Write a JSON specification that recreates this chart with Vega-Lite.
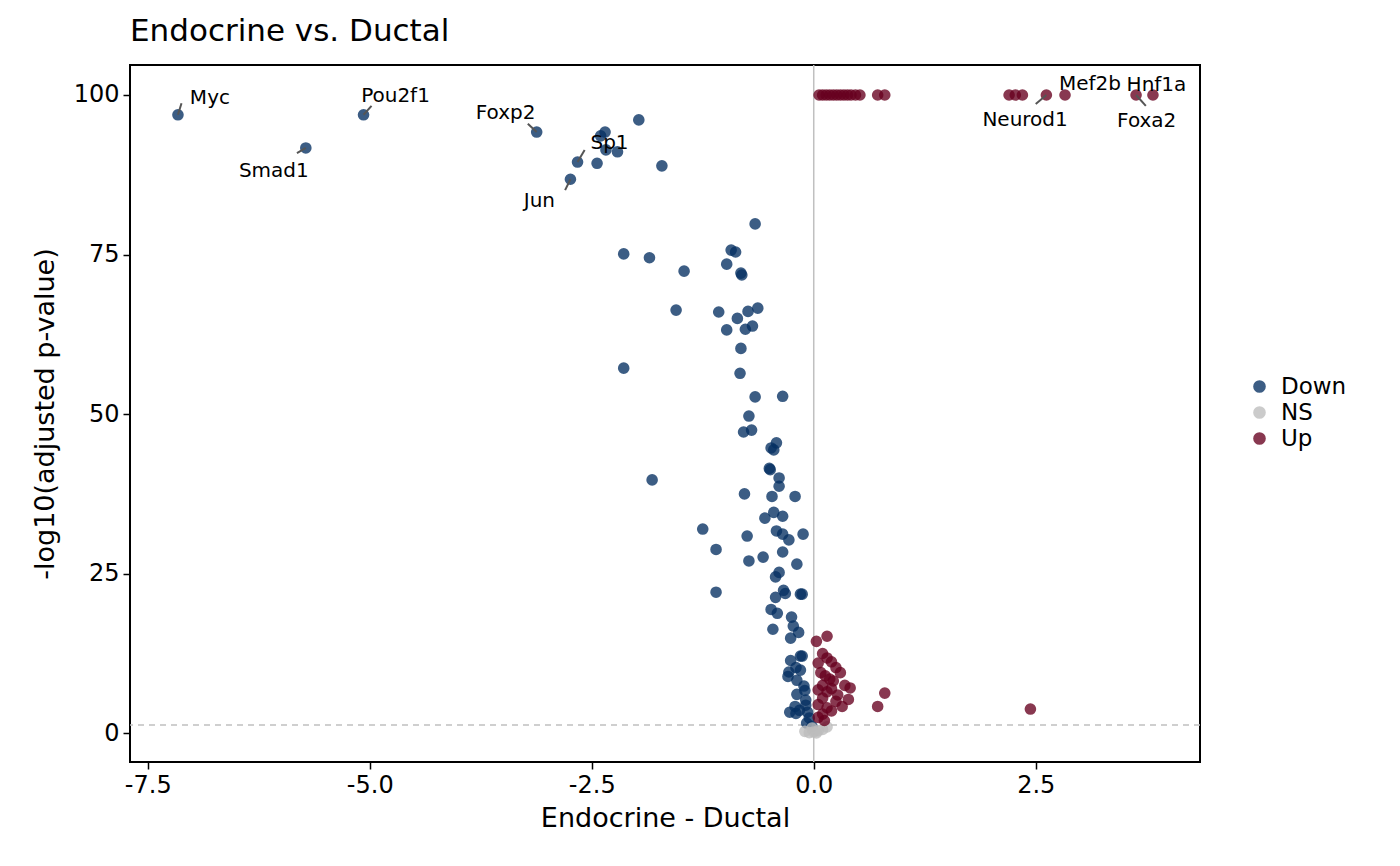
{
  "$schema": "https://vega.github.io/schema/vega-lite/v6.json",
  "width": 1070,
  "height": 697,
  "autosize": {"type": "none"},
  "padding": {"left": 130, "top": 65, "right": 200, "bottom": 104},
  "background": "white",
  "title": {"text": "Endocrine vs. Ductal", "anchor": "start", "frame": "group", "fontSize": 31, "fontWeight": "normal", "font": "DejaVu Sans", "color": "black", "offset": 16},
  "datasets": {
    "genes": [
      {"lfc": -7.16, "p": 96.9, "status": "Down"},
      {"lfc": -5.72, "p": 91.7, "status": "Down"},
      {"lfc": -5.07, "p": 96.9, "status": "Down"},
      {"lfc": -3.12, "p": 94.2, "status": "Down"},
      {"lfc": -1.97, "p": 96.1, "status": "Down"},
      {"lfc": -2.35, "p": 94.2, "status": "Down"},
      {"lfc": -2.4, "p": 93.6, "status": "Down"},
      {"lfc": -2.34, "p": 91.4, "status": "Down"},
      {"lfc": -2.21, "p": 91.1, "status": "Down"},
      {"lfc": -2.66, "p": 89.5, "status": "Down"},
      {"lfc": -2.44, "p": 89.3, "status": "Down"},
      {"lfc": -1.71, "p": 88.9, "status": "Down"},
      {"lfc": -2.74, "p": 86.8, "status": "Down"},
      {"lfc": -0.66, "p": 79.8, "status": "Down"},
      {"lfc": -0.93, "p": 75.7, "status": "Down"},
      {"lfc": -0.88, "p": 75.4, "status": "Down"},
      {"lfc": -2.14, "p": 75.1, "status": "Down"},
      {"lfc": -1.85, "p": 74.5, "status": "Down"},
      {"lfc": -0.98, "p": 73.5, "status": "Down"},
      {"lfc": -1.46, "p": 72.4, "status": "Down"},
      {"lfc": -0.82, "p": 72.1, "status": "Down"},
      {"lfc": -0.81, "p": 71.8, "status": "Down"},
      {"lfc": -1.55, "p": 66.3, "status": "Down"},
      {"lfc": -1.07, "p": 66.0, "status": "Down"},
      {"lfc": -0.74, "p": 66.1, "status": "Down"},
      {"lfc": -0.63, "p": 66.6, "status": "Down"},
      {"lfc": -0.86, "p": 65.0, "status": "Down"},
      {"lfc": -0.69, "p": 63.8, "status": "Down"},
      {"lfc": -0.98, "p": 63.2, "status": "Down"},
      {"lfc": -0.77, "p": 63.3, "status": "Down"},
      {"lfc": -0.82, "p": 60.3, "status": "Down"},
      {"lfc": -2.14, "p": 57.2, "status": "Down"},
      {"lfc": -0.83, "p": 56.4, "status": "Down"},
      {"lfc": -0.35, "p": 52.8, "status": "Down"},
      {"lfc": -0.66, "p": 52.7, "status": "Down"},
      {"lfc": -0.73, "p": 49.7, "status": "Down"},
      {"lfc": -0.7, "p": 47.5, "status": "Down"},
      {"lfc": -0.79, "p": 47.2, "status": "Down"},
      {"lfc": -0.42, "p": 45.5, "status": "Down"},
      {"lfc": -0.48, "p": 44.7, "status": "Down"},
      {"lfc": -0.45, "p": 44.4, "status": "Down"},
      {"lfc": -1.82, "p": 39.7, "status": "Down"},
      {"lfc": -0.5, "p": 41.5, "status": "Down"},
      {"lfc": -0.49, "p": 41.3, "status": "Down"},
      {"lfc": -0.39, "p": 40.0, "status": "Down"},
      {"lfc": -0.39, "p": 38.7, "status": "Down"},
      {"lfc": -0.21, "p": 37.1, "status": "Down"},
      {"lfc": -0.78, "p": 37.5, "status": "Down"},
      {"lfc": -0.47, "p": 37.1, "status": "Down"},
      {"lfc": -0.45, "p": 34.6, "status": "Down"},
      {"lfc": -0.35, "p": 34.0, "status": "Down"},
      {"lfc": -0.55, "p": 33.7, "status": "Down"},
      {"lfc": -1.25, "p": 32.0, "status": "Down"},
      {"lfc": -0.12, "p": 31.2, "status": "Down"},
      {"lfc": -0.75, "p": 30.9, "status": "Down"},
      {"lfc": -0.42, "p": 31.7, "status": "Down"},
      {"lfc": -0.35, "p": 31.2, "status": "Down"},
      {"lfc": -0.28, "p": 30.3, "status": "Down"},
      {"lfc": -0.35, "p": 28.4, "status": "Down"},
      {"lfc": -1.1, "p": 28.8, "status": "Down"},
      {"lfc": -0.57, "p": 27.6, "status": "Down"},
      {"lfc": -0.73, "p": 27.0, "status": "Down"},
      {"lfc": -0.19, "p": 26.5, "status": "Down"},
      {"lfc": -0.39, "p": 25.2, "status": "Down"},
      {"lfc": -0.43, "p": 24.5, "status": "Down"},
      {"lfc": -1.1, "p": 22.1, "status": "Down"},
      {"lfc": -0.34, "p": 22.4, "status": "Down"},
      {"lfc": -0.32, "p": 21.9, "status": "Down"},
      {"lfc": -0.15, "p": 21.8, "status": "Down"},
      {"lfc": -0.13, "p": 21.8, "status": "Down"},
      {"lfc": -0.43, "p": 21.3, "status": "Down"},
      {"lfc": -0.48, "p": 19.4, "status": "Down"},
      {"lfc": -0.41, "p": 18.8, "status": "Down"},
      {"lfc": -0.25, "p": 18.2, "status": "Down"},
      {"lfc": -0.23, "p": 16.8, "status": "Down"},
      {"lfc": -0.46, "p": 16.3, "status": "Down"},
      {"lfc": -0.17, "p": 15.8, "status": "Down"},
      {"lfc": -0.26, "p": 14.9, "status": "Down"},
      {"lfc": -0.15, "p": 12.1, "status": "Down"},
      {"lfc": -0.13, "p": 12.1, "status": "Down"},
      {"lfc": -0.26, "p": 11.4, "status": "Down"},
      {"lfc": -0.28, "p": 9.6, "status": "Down"},
      {"lfc": -0.29, "p": 8.9, "status": "Down"},
      {"lfc": -0.2, "p": 10.3, "status": "Down"},
      {"lfc": -0.15, "p": 9.9, "status": "Down"},
      {"lfc": -0.19, "p": 8.3, "status": "Down"},
      {"lfc": -0.11, "p": 7.4, "status": "Down"},
      {"lfc": -0.1, "p": 6.7, "status": "Down"},
      {"lfc": -0.19, "p": 6.1, "status": "Down"},
      {"lfc": -0.21, "p": 4.2, "status": "Down"},
      {"lfc": -0.16, "p": 3.6, "status": "Down"},
      {"lfc": -0.09, "p": 5.2, "status": "Down"},
      {"lfc": -0.09, "p": 4.4, "status": "Down"},
      {"lfc": -0.07, "p": 3.3, "status": "Down"},
      {"lfc": -0.05, "p": 2.4, "status": "Down"},
      {"lfc": -0.08, "p": 1.6, "status": "Down"},
      {"lfc": -0.02, "p": 1.1, "status": "Down"},
      {"lfc": -0.2, "p": 3.1, "status": "Down"},
      {"lfc": -0.27, "p": 3.3, "status": "Down"},
      {"lfc": -0.1, "p": 0.3, "status": "NS"},
      {"lfc": -0.05, "p": 0.1, "status": "NS"},
      {"lfc": 0.0, "p": 0.2, "status": "NS"},
      {"lfc": 0.05, "p": 0.4, "status": "NS"},
      {"lfc": 0.1, "p": 0.6, "status": "NS"},
      {"lfc": 0.15, "p": 1.0, "status": "NS"},
      {"lfc": -0.02, "p": 0.8, "status": "NS"},
      {"lfc": 0.03, "p": 0.05, "status": "NS"},
      {"lfc": 0.06, "p": 100, "status": "Up"},
      {"lfc": 0.1, "p": 100, "status": "Up"},
      {"lfc": 0.14, "p": 100, "status": "Up"},
      {"lfc": 0.18, "p": 100, "status": "Up"},
      {"lfc": 0.22, "p": 100, "status": "Up"},
      {"lfc": 0.26, "p": 100, "status": "Up"},
      {"lfc": 0.3, "p": 100, "status": "Up"},
      {"lfc": 0.34, "p": 100, "status": "Up"},
      {"lfc": 0.38, "p": 100, "status": "Up"},
      {"lfc": 0.42, "p": 100, "status": "Up"},
      {"lfc": 0.47, "p": 100, "status": "Up"},
      {"lfc": 0.52, "p": 100, "status": "Up"},
      {"lfc": 0.72, "p": 100, "status": "Up"},
      {"lfc": 0.8, "p": 100, "status": "Up"},
      {"lfc": 2.2, "p": 100, "status": "Up"},
      {"lfc": 2.27, "p": 100, "status": "Up"},
      {"lfc": 2.35, "p": 100, "status": "Up"},
      {"lfc": 2.62, "p": 100, "status": "Up"},
      {"lfc": 2.83, "p": 100, "status": "Up"},
      {"lfc": 3.63, "p": 100, "status": "Up"},
      {"lfc": 3.82, "p": 100, "status": "Up"},
      {"lfc": 2.44, "p": 3.8, "status": "Up"},
      {"lfc": 0.8, "p": 6.3, "status": "Up"},
      {"lfc": 0.72, "p": 4.2, "status": "Up"},
      {"lfc": 0.41, "p": 7.1, "status": "Up"},
      {"lfc": 0.39, "p": 5.3, "status": "Up"},
      {"lfc": 0.27, "p": 6.0, "status": "Up"},
      {"lfc": 0.32, "p": 4.2, "status": "Up"},
      {"lfc": 0.15, "p": 15.2, "status": "Up"},
      {"lfc": 0.03, "p": 14.4, "status": "Up"},
      {"lfc": 0.05, "p": 11.0, "status": "Up"},
      {"lfc": 0.1, "p": 12.5, "status": "Up"},
      {"lfc": 0.15, "p": 11.8, "status": "Up"},
      {"lfc": 0.2, "p": 11.2, "status": "Up"},
      {"lfc": 0.25, "p": 10.3, "status": "Up"},
      {"lfc": 0.08, "p": 9.5, "status": "Up"},
      {"lfc": 0.13, "p": 9.0, "status": "Up"},
      {"lfc": 0.18, "p": 8.5, "status": "Up"},
      {"lfc": 0.22, "p": 8.2, "status": "Up"},
      {"lfc": 0.1, "p": 7.5, "status": "Up"},
      {"lfc": 0.05, "p": 6.8, "status": "Up"},
      {"lfc": 0.15, "p": 6.5, "status": "Up"},
      {"lfc": 0.2, "p": 7.0, "status": "Up"},
      {"lfc": 0.1, "p": 5.5, "status": "Up"},
      {"lfc": 0.25, "p": 5.0, "status": "Up"},
      {"lfc": 0.05, "p": 4.5, "status": "Up"},
      {"lfc": 0.15, "p": 4.0, "status": "Up"},
      {"lfc": 0.1, "p": 3.0, "status": "Up"},
      {"lfc": 0.2, "p": 3.5, "status": "Up"},
      {"lfc": 0.05, "p": 2.5, "status": "Up"},
      {"lfc": 0.12, "p": 2.0, "status": "Up"},
      {"lfc": 0.3, "p": 9.5, "status": "Up"},
      {"lfc": 0.35, "p": 7.5, "status": "Up"}
    ],
    "labels": [
      {"gene": "Myc", "lfc": -7.16, "p": 96.9, "lx": -6.8, "ly": 99.5, "sx": -7.12, "sy": 98.7},
      {"gene": "Smad1", "lfc": -5.72, "p": 91.7, "lx": -6.08, "ly": 88.1, "sx": -5.82, "sy": 90.9},
      {"gene": "Pou2f1", "lfc": -5.07, "p": 96.9, "lx": -4.71, "ly": 99.8, "sx": -4.98, "sy": 98.3},
      {"gene": "Foxp2", "lfc": -3.12, "p": 94.2, "lx": -3.47, "ly": 97.2, "sx": -3.22, "sy": 95.5},
      {"gene": "Sp1", "lfc": -2.66, "p": 89.5, "lx": -2.3, "ly": 92.5, "sx": -2.58, "sy": 91.4},
      {"gene": "Jun", "lfc": -2.74, "p": 86.8, "lx": -3.09, "ly": 83.4, "sx": -2.8, "sy": 85.1},
      {"gene": "Neurod1", "lfc": 2.62, "p": 100, "lx": 2.38, "ly": 96.1, "sx": 2.5, "sy": 98.6},
      {"gene": "Mef2b", "lfc": 2.83, "p": 100, "lx": 3.11, "ly": 101.7, "sx": 2.83, "sy": 100},
      {"gene": "Hnf1a", "lfc": 3.82, "p": 100, "lx": 3.86, "ly": 101.6, "sx": 3.82, "sy": 100},
      {"gene": "Foxa2", "lfc": 3.63, "p": 100, "lx": 3.75, "ly": 95.9, "sx": 3.74, "sy": 98.3}
    ],
    "refs": [{"x0": 0, "y0": 1.3}]
  },
  "layer": [
    {
      "data": {"name": "refs"},
      "mark": {"type": "rule", "color": "#c0c0c0", "strokeWidth": 1.5},
      "encoding": {"x": {"field": "x0", "type": "quantitative", "scale": {"domain": [-7.7, 4.35]}}}
    },
    {
      "data": {"name": "refs"},
      "mark": {"type": "rule", "color": "#c0c0c0", "strokeWidth": 1.5, "strokeDash": [6, 5]},
      "encoding": {"y": {"field": "y0", "type": "quantitative"}}
    },
    {
      "data": {"name": "genes"},
      "mark": {"type": "circle", "size": 135, "opacity": 0.78},
      "encoding": {
        "x": {"field": "lfc", "type": "quantitative", "title": "Endocrine - Ductal",
          "scale": {"domain": [-7.7, 4.35], "nice": false, "zero": false},
          "axis": {"values": [-7.5, -5, -2.5, 0, 2.5], "labelExpr": "datum.value < 0 ? '-' + format(-datum.value, '.1f') : format(datum.value, '.1f')"}},
        "y": {"field": "p", "type": "quantitative", "title": "-log10(adjusted p-value)",
          "scale": {"domain": [-4.5, 104.7], "nice": false, "zero": false},
          "axis": {"values": [0, 25, 50, 75, 100]}},
        "color": {"field": "status", "type": "nominal", "title": null,
          "scale": {"domain": ["Down", "NS", "Up"], "range": ["#053061", "#bdbdbd", "#67001f"]},
          "legend": {"orient": "none", "legendX": 1118, "legendY": 310, "symbolType": "circle", "symbolSize": 160, "symbolOpacity": 0.78, "labelFontSize": 23, "rowPadding": 2, "labelOffset": 10}}
      }
    },
    {
      "data": {"name": "labels"},
      "mark": {"type": "rule", "color": "#555555", "strokeWidth": 2},
      "encoding": {
        "x": {"field": "lfc", "type": "quantitative"},
        "y": {"field": "p", "type": "quantitative"},
        "x2": {"field": "sx"},
        "y2": {"field": "sy"}
      }
    },
    {
      "data": {"name": "labels"},
      "mark": {"type": "text", "fontSize": 20, "font": "DejaVu Sans", "color": "black", "baseline": "middle"},
      "encoding": {
        "x": {"field": "lx", "type": "quantitative"},
        "y": {"field": "ly", "type": "quantitative"},
        "text": {"field": "gene"}
      }
    }
  ],
  "config": {
    "font": "DejaVu Sans",
    "view": {"stroke": "black", "strokeWidth": 2},
    "axis": {"grid": false, "labelFontSize": 24, "titleFontSize": 27, "titleFontWeight": "normal", "labelColor": "black", "titleColor": "black", "domain": false, "tickColor": "black", "tickSize": 7, "tickWidth": 1.5, "labelPadding": 4},
    "axisX": {"titlePadding": 8},
    "axisY": {"titlePadding": 14},
    "legend": {"labelColor": "black"}
  }
}
